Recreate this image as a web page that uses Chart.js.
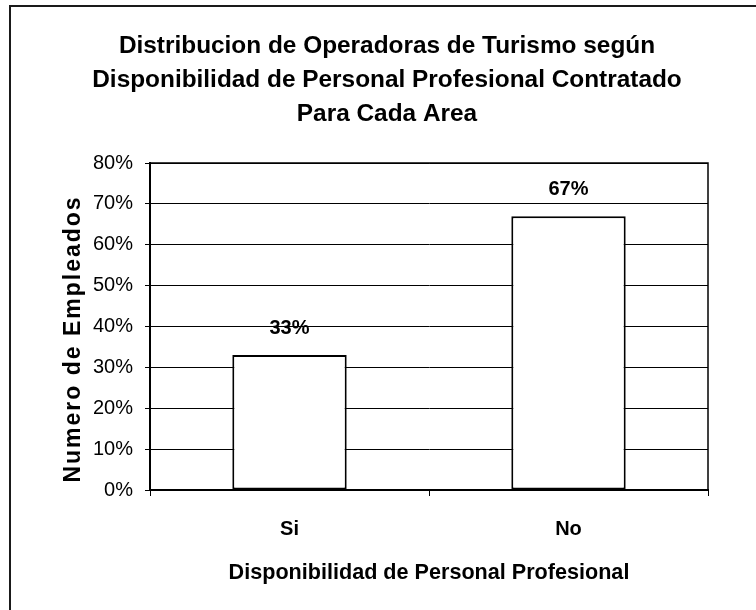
<!DOCTYPE html>
<html>
<head>
<meta charset="utf-8">
<title>Disponibilidad de Personal Profesional</title>
<script src="https://cdn.jsdelivr.net/npm/chart.js@4"></script>
<style>
  html, body { margin: 0; padding: 0; background: #fff; overflow: hidden; }
  #operadoras { display: block; }
</style>
</head>
<body>
<canvas id="operadoras" width="756" height="610"></canvas>
<script>
const categorias = ["Si", "No"];
const porcentajes = [33, 67];
const ticksY = [0, 10, 20, 30, 40, 50, 60, 70, 80];

const titulo = [
  "Distribucion de Operadoras de Turismo según",
  "Disponibilidad de Personal Profesional Contratado",
  "Para Cada Area",
];
const tituloY = "Numero de Empleados";
const tituloX = "Disponibilidad de Personal Profesional";

const fuente = "'Liberation Sans', Arial, sans-serif";

// marco exterior (solo lado izquierdo y superior)
const marco = {
  id: "marco",
  beforeDraw(chart) {
    const ctx = chart.ctx;
    ctx.save();
    ctx.strokeStyle = "#1a1a1a";
    ctx.lineWidth = 2;
    ctx.beginPath();
    ctx.moveTo(756, 6);
    ctx.lineTo(10, 6);
    ctx.lineTo(10, 610);
    ctx.stroke();
    ctx.restore();
  },
};

// borde del area de trazado, titulo del eje Y y etiquetas de valor
const extras = {
  id: "extras",
  afterDraw(chart) {
    const ctx = chart.ctx;
    const area = chart.chartArea;
    ctx.save();
    ctx.strokeStyle = "#000";
    ctx.lineWidth = 1.5;
    ctx.strokeRect(area.left, area.top, area.right - area.left, area.bottom - area.top);

    // titulo vertical con letras espaciadas
    ctx.fillStyle = "#000";
    ctx.font = "bold 23px " + fuente;
    ctx.letterSpacing = "2px";
    ctx.textAlign = "center";
    ctx.textBaseline = "middle";
    ctx.translate(74, 339);
    ctx.rotate(-Math.PI / 2);
    ctx.fillText(tituloY, 0, 0);
    ctx.restore();

    ctx.save();
    ctx.fillStyle = "#000";
    ctx.font = "bold 20px " + fuente;
    ctx.textAlign = "center";
    ctx.textBaseline = "middle";
    chart.getDatasetMeta(0).data.forEach((bar, i) => {
      ctx.fillText(porcentajes[i] + "%", bar.x, bar.y - 27);
    });
    ctx.restore();
  },
};

new Chart(document.getElementById("operadoras"), {
  type: "bar",
  data: {
    labels: categorias,
    datasets: [
      {
        data: porcentajes,
        backgroundColor: "#fff",
        borderColor: "#000",
        borderWidth: 2,
        borderSkipped: false,
        barPercentage: 0.41,
        categoryPercentage: 1,
      },
    ],
  },
  options: {
    responsive: false,
    animation: false,
    devicePixelRatio: 1,
    layout: { padding: { left: 66, right: 48, top: 0, bottom: 0 } },
    plugins: {
      legend: { display: false },
      tooltip: { enabled: false },
      title: {
        display: true,
        text: titulo,
        color: "#000",
        font: { family: fuente, size: 24.4, weight: "bold", lineHeight: 34 / 24.4 },
        padding: { top: 29, bottom: 32 },
      },
    },
    scales: {
      y: {
        min: 0,
        max: 80,
        afterFit: (s) => { s.width = 84; },
        afterBuildTicks: (s) => { s.ticks = ticksY.map((v) => ({ value: v })); },
        ticks: {
          color: "#000",
          padding: 12,
          font: { family: fuente, size: 20 },
          callback: (v) => v + "%",
        },
        grid: { color: "#000", lineWidth: 1, tickLength: 5 },
        border: { color: "#000", width: 2 },
      },
      x: {
        afterFit: (s) => { s.height = 120; },
        ticks: {
          color: "#000",
          padding: 21,
          font: { family: fuente, size: 20, weight: "bold" },
        },
        grid: { drawOnChartArea: false, offset: true, color: "#000", tickLength: 6 },
        border: { color: "#000", width: 2 },
        title: {
          display: true,
          text: tituloX,
          color: "#000",
          font: { family: fuente, size: 21.6, weight: "bold" },
          padding: { top: 0, bottom: 24 },
        },
      },
    },
  },
  plugins: [marco, extras],
});
</script>
</body>
</html>
